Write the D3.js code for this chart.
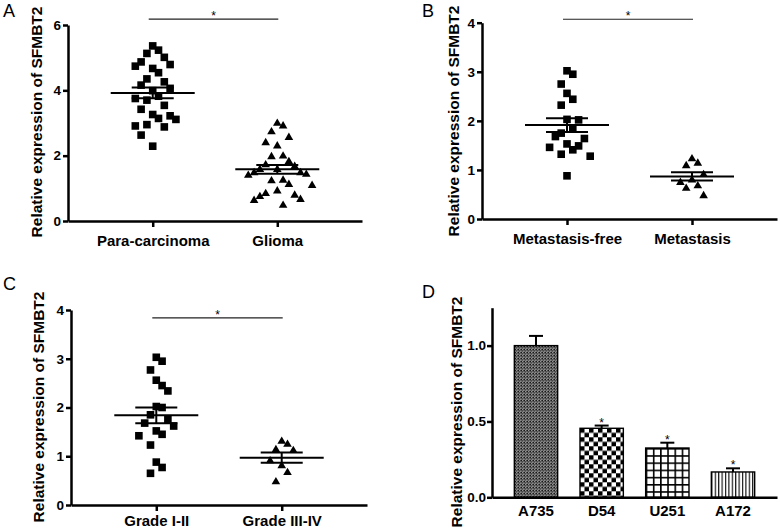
<!DOCTYPE html>
<meta charset="utf-8">
<style>
	body { margin: 0; background: #fff; }
	svg { display: block; font-family: "Liberation Sans", Arial, sans-serif; }
	.tick text { font-weight: bold; font-size: 13.5px; fill: #000; }
	.axis path, .axis line { stroke: #000; stroke-width: 2.5; }
	.title { font-weight: bold; font-size: 15.5px; }
	.letter { font-size: 18px; }
</style>
<script src="https://cdn.jsdelivr.net/npm/d3@7"></script>
<body>
<script>
	// panel A
	const catsA = ["Para-carcinoma", "Glioma"];
	const paraA = [5.36, 5.23, 5.13, 5.01, 4.87, 4.79, 4.74, 4.67, 4.54, 4.35, 4.26, 4.16, 4.06, 3.99,
		3.82, 3.75, 3.70, 3.54, 3.42, 3.26, 3.22, 3.14, 3.11, 2.95, 2.91, 2.88, 2.63, 2.29];
	const gliomaA = [3.01, 2.93, 2.75, 2.58, 2.42, 2.32, 2.01, 1.99, 1.84, 1.74, 1.69, 1.60, 1.60, 1.50,
		1.50, 1.45, 1.42, 1.27, 1.25, 1.14, 1.11, 0.94, 0.86, 0.81, 0.77, 0.68, 0.65, 0.50];
	// panel B
	const catsB = ["Metastasis-free", "Metastasis"];
	const freeB = [3.02, 2.95, 2.75, 2.56, 2.44, 2.32, 2.03, 2.02, 1.85, 1.75, 1.68, 1.64, 1.53, 1.49,
		1.46, 1.41, 1.32, 1.28, 0.88];
	const metB = [1.24, 1.15, 1.10, 0.92, 0.81, 0.76, 0.69, 0.64, 0.49];
	// panel C
	const catsC = ["Grade I-II", "Grade III-IV"];
	const lowC = [3.03, 2.95, 2.77, 2.56, 2.45, 2.34, 2.02, 2.00, 1.85, 1.76, 1.68, 1.62, 1.52, 1.45,
		1.42, 1.23, 0.88, 0.77, 0.65];
	const highC = [1.32, 1.26, 1.15, 1.13, 0.92, 0.82, 0.68, 0.49];
	// panel D
	const cellLines = ["A735", "D54", "U251", "A172"];
	const cellMeans = [1.0, 0.455, 0.325, 0.167];
	const cellErr = [0.064, 0.018, 0.035, 0.024];
	const cellSig = [false, true, true, true];

	const svg = d3.select("body").append("svg")
		.attr("width", 780)
		.attr("height", 529);

	const yTitle = "Relative expression of SFMBT2";

	// simple dot-plot spreading, like prism does it
	function swarm(vals, y, step, gap) {
		let pts = vals.map(v => ({ v: v, y: y(v) })).sort((a, b) => a.y - b.y);
		let placed = [];
		pts.forEach(p => {
			for (let k = 0; k < 60; k++) {
				let off = (k % 2 ? 1 : -1) * Math.ceil(k / 2) * step;
				let hit = placed.some(q => Math.abs(q.y - p.y) < gap && Math.abs(q.dx - off) < step * 0.99);
				if (!hit) { p.dx = off; break; }
			}
			placed.push(p);
		});
		return placed;
	}

	function scatterPanel(c) {
		let g = svg.append("g");
		let y = d3.scaleLinear().domain([0, c.ymax]).range([c.yBot, c.yTop]);
		let x = d3.scalePoint().domain(c.cats).range([c.x0, c.x1]).padding(0.68);

		g.append("g").attr("class", "axis")
			.attr("transform", "translate(" + c.x0 + ",0)")
			.call(d3.axisLeft(y).tickValues(d3.range(0, c.ymax + 1, c.tickStep)).tickSize(5).tickPadding(2).tickSizeOuter(0).tickFormat(d3.format("d")));
		let xa = g.append("g").attr("class", "axis")
			.attr("transform", "translate(0," + c.yBot + ")")
			.call(d3.axisBottom(x).tickSize(6).tickPadding(c.labPad).tickSizeOuter(0));
		xa.selectAll(".tick text").style("font-size", "15px");

		c.groups.forEach((vals, gi) => {
			let cx = x(c.cats[gi]);
			let pts = swarm(vals, y, 5.8, 21);
			if (c.shapes[gi] == "square") {
				g.selectAll(null).data(pts).join("rect")
					.attr("x", d => cx + d.dx - 3.8).attr("y", d => d.y - 3.8)
					.attr("width", 7.6).attr("height", 7.6).attr("fill", "#000");
			} else {
				g.selectAll(null).data(pts).join("path")
					.attr("d", "M0,-4.2L4.3,3.2L-4.3,3.2Z")
					.attr("transform", d => "translate(" + (cx + d.dx) + "," + d.y + ")")
					.attr("fill", "#000");
			}
			let m = d3.mean(vals), sem = d3.deviation(vals) / Math.sqrt(vals.length);
			let lines = [
				[cx - 42, y(m), cx + 42, y(m)],
				[cx - 21, y(m + sem), cx + 21, y(m + sem)],
				[cx - 21, y(m - sem), cx + 21, y(m - sem)],
				[cx, y(m + sem), cx, y(m - sem)]
			];
			g.selectAll(null).data(lines).join("line")
				.attr("x1", d => d[0]).attr("y1", d => d[1])
				.attr("x2", d => d[2]).attr("y2", d => d[3])
				.attr("stroke", "#000").attr("stroke-width", 2);
		});

		// significance bar
		let x1 = x(c.cats[0]) - 4, x2 = x(c.cats[1]) + 1, sy = y(c.sig);
		g.append("line").attr("x1", x1).attr("x2", x2).attr("y1", sy).attr("y2", sy)
			.attr("stroke", "#222").attr("stroke-width", 1.2);
		g.append("text").attr("x", (x1 + x2) / 2).attr("y", sy + 1)
			.attr("text-anchor", "middle").style("font-size", "12px").text("*");

		g.append("text").attr("class", "title")
			.attr("transform", "translate(" + c.tx + "," + c.ty + ") rotate(-90)")
			.attr("text-anchor", "middle").text(yTitle);
		g.append("text").attr("class", "letter").attr("x", c.lx).attr("y", c.ly).text(c.letter);
	}

	scatterPanel({ letter: "A", lx: 3, ly: 17, x0: 68, x1: 362, yTop: 25, yBot: 221, ymax: 6, tickStep: 2, labPad: 8,
		cats: catsA, groups: [paraA, gliomaA], shapes: ["square", "triangle"], sig: 6.18, tx: 42, ty: 122 });
	scatterPanel({ letter: "B", lx: 422, ly: 17, x0: 482, x1: 777, yTop: 22.7, yBot: 219, ymax: 4, tickStep: 1, labPad: 8,
		cats: catsB, groups: [freeB, metB], shapes: ["square", "triangle"], sig: 4.07, tx: 459, ty: 121 });
	scatterPanel({ letter: "C", lx: 3, ly: 290, x0: 71, x1: 367, yTop: 310, yBot: 505, ymax: 4, tickStep: 1, labPad: 4,
		cats: catsC, groups: [lowC, highC], shapes: ["square", "triangle"], sig: 3.84, tx: 44, ty: 407 });

	// panel D: bar chart with fill patterns
	const defs = svg.append("defs");
	let p1 = defs.append("pattern").attr("id", "pat0").attr("patternUnits", "userSpaceOnUse")
		.attr("width", 3).attr("height", 3);
	p1.append("rect").attr("width", 3).attr("height", 3).attr("fill", "#fff");
	p1.append("rect").attr("width", 1.9).attr("height", 1.9).attr("fill", "#000");
	p1.append("rect").attr("x", 1.5).attr("y", 1.5).attr("width", 1.9).attr("height", 1.9).attr("fill", "#000");

	let p2 = defs.append("pattern").attr("id", "pat1").attr("patternUnits", "userSpaceOnUse")
		.attr("width", 9).attr("height", 9);
	p2.append("rect").attr("width", 9).attr("height", 9).attr("fill", "#fff");
	p2.append("rect").attr("width", 4.5).attr("height", 4.5).attr("fill", "#000");
	p2.append("rect").attr("x", 4.5).attr("y", 4.5).attr("width", 4.5).attr("height", 4.5).attr("fill", "#000");

	let p3 = defs.append("pattern").attr("id", "pat2").attr("patternUnits", "userSpaceOnUse")
		.attr("width", 7.2).attr("height", 7.2);
	p3.append("rect").attr("width", 7.2).attr("height", 7.2).attr("fill", "#fff");
	p3.append("path").attr("d", "M0,0.8H7.2M0.8,0V7.2").attr("stroke", "#000").attr("stroke-width", 1.6);

	let p4 = defs.append("pattern").attr("id", "pat3").attr("patternUnits", "userSpaceOnUse")
		.attr("width", 3.4).attr("height", 10);
	p4.append("rect").attr("width", 3.4).attr("height", 10).attr("fill", "#fff");
	p4.append("path").attr("d", "M0.6,0V10").attr("stroke", "#000").attr("stroke-width", 1.1);

	let gD = svg.append("g");
	let yD = d3.scaleLinear().domain([0, 1.25]).range([497.3, 307.7]);
	let xD = d3.scaleBand().domain(cellLines).range([492, 777]).padding(0.34);

	cellLines.forEach((name, i) => {
		let bx = xD(name), bw = xD.bandwidth(), top = yD(cellMeans[i]);
		svg.select("#pat" + i).attr("x", bx).attr("y", top);
		let cx = bx + bw / 2, cap = yD(cellMeans[i] + cellErr[i]);
		gD.append("line").attr("x1", cx).attr("x2", cx).attr("y1", top).attr("y2", cap)
			.attr("stroke", "#000").attr("stroke-width", 2);
		gD.append("line").attr("x1", cx - 7).attr("x2", cx + 7).attr("y1", cap).attr("y2", cap)
			.attr("stroke", "#000").attr("stroke-width", 2);
		gD.append("rect").attr("x", bx).attr("y", top).attr("width", bw).attr("height", yD(0) - top)
			.attr("fill", "url(#pat" + i + ")").attr("stroke", "#000").attr("stroke-width", 1.4);
		if (cellSig[i]) {
			gD.append("text").attr("x", cx).attr("y", cap + 1).attr("text-anchor", "middle")
				.style("font-size", "12px").text("*");
		}
	});

	gD.append("g").attr("class", "axis")
		.attr("transform", "translate(492,0)")
		.call(d3.axisLeft(yD).tickValues([0, 0.5, 1]).tickSize(5).tickPadding(1).tickSizeOuter(0).tickFormat(d3.format(".1f")));
	gD.append("g").attr("class", "axis")
		.attr("transform", "translate(0,497.3)")
		.call(d3.axisBottom(xD).tickSize(0).tickPadding(8).tickSizeOuter(0))
		.selectAll(".tick text").style("font-size", "15px");

	gD.append("text").attr("class", "title")
		.attr("transform", "translate(462,412) rotate(-90)")
		.attr("text-anchor", "middle").text(yTitle);
	gD.append("text").attr("class", "letter").attr("x", 422).attr("y", 298).text("D");
</script>
</body>
